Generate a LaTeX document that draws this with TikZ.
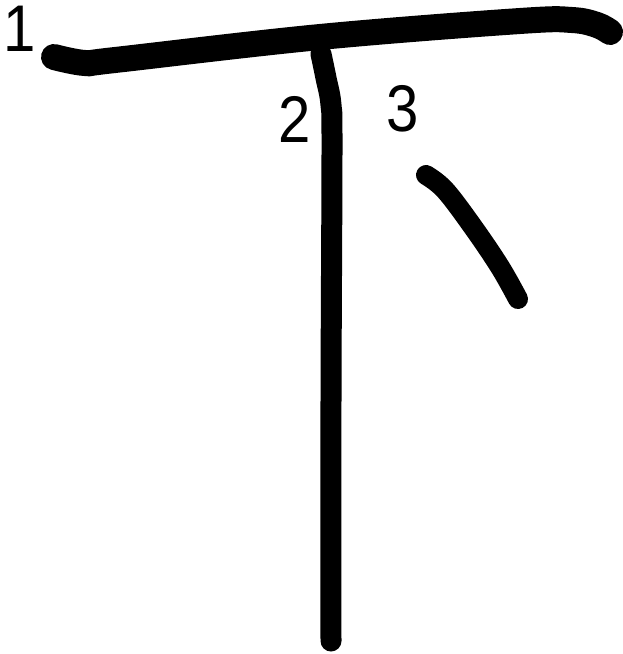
\documentclass[tikz,border=0pt]{standalone}
\usepackage{fontspec}
\setmainfont{Liberation Sans}
\begin{document}
\begin{tikzpicture}[x=1pt, y=-1pt,
  brush/.style={line width=#1, line cap=round, line join=round},
  num/.style={font=\fontsize{66}{66}\selectfont, inner sep=0pt, xscale=0.88}
]
  \useasboundingbox (0,0) rectangle (623,654);
  % first stroke: horizontal
  \draw[brush=26pt] plot[smooth, tension=0.6] coordinates
    {(54,57) (85,63) (115,60) (320,37) (520,21) (572,20) (597,25) (610,32)};
  % second stroke: vertical
  \draw[brush=21pt] plot[smooth, tension=0.6] coordinates
    {(321,54) (326,78) (331,105) (332,150) (331,400) (331,641)};
  % third stroke: dot
  \draw[brush=20pt] plot[smooth, tension=0.6] coordinates
    {(426,175) (445,190) (473,227) (500,267) (518,299)};
  \node[num] (n1) at (20,29)  {1};
  \node[num] (n2) at (295,119) {2};
  \node[num] (n3) at (403,109) {3};
\end{tikzpicture}
\end{document}
